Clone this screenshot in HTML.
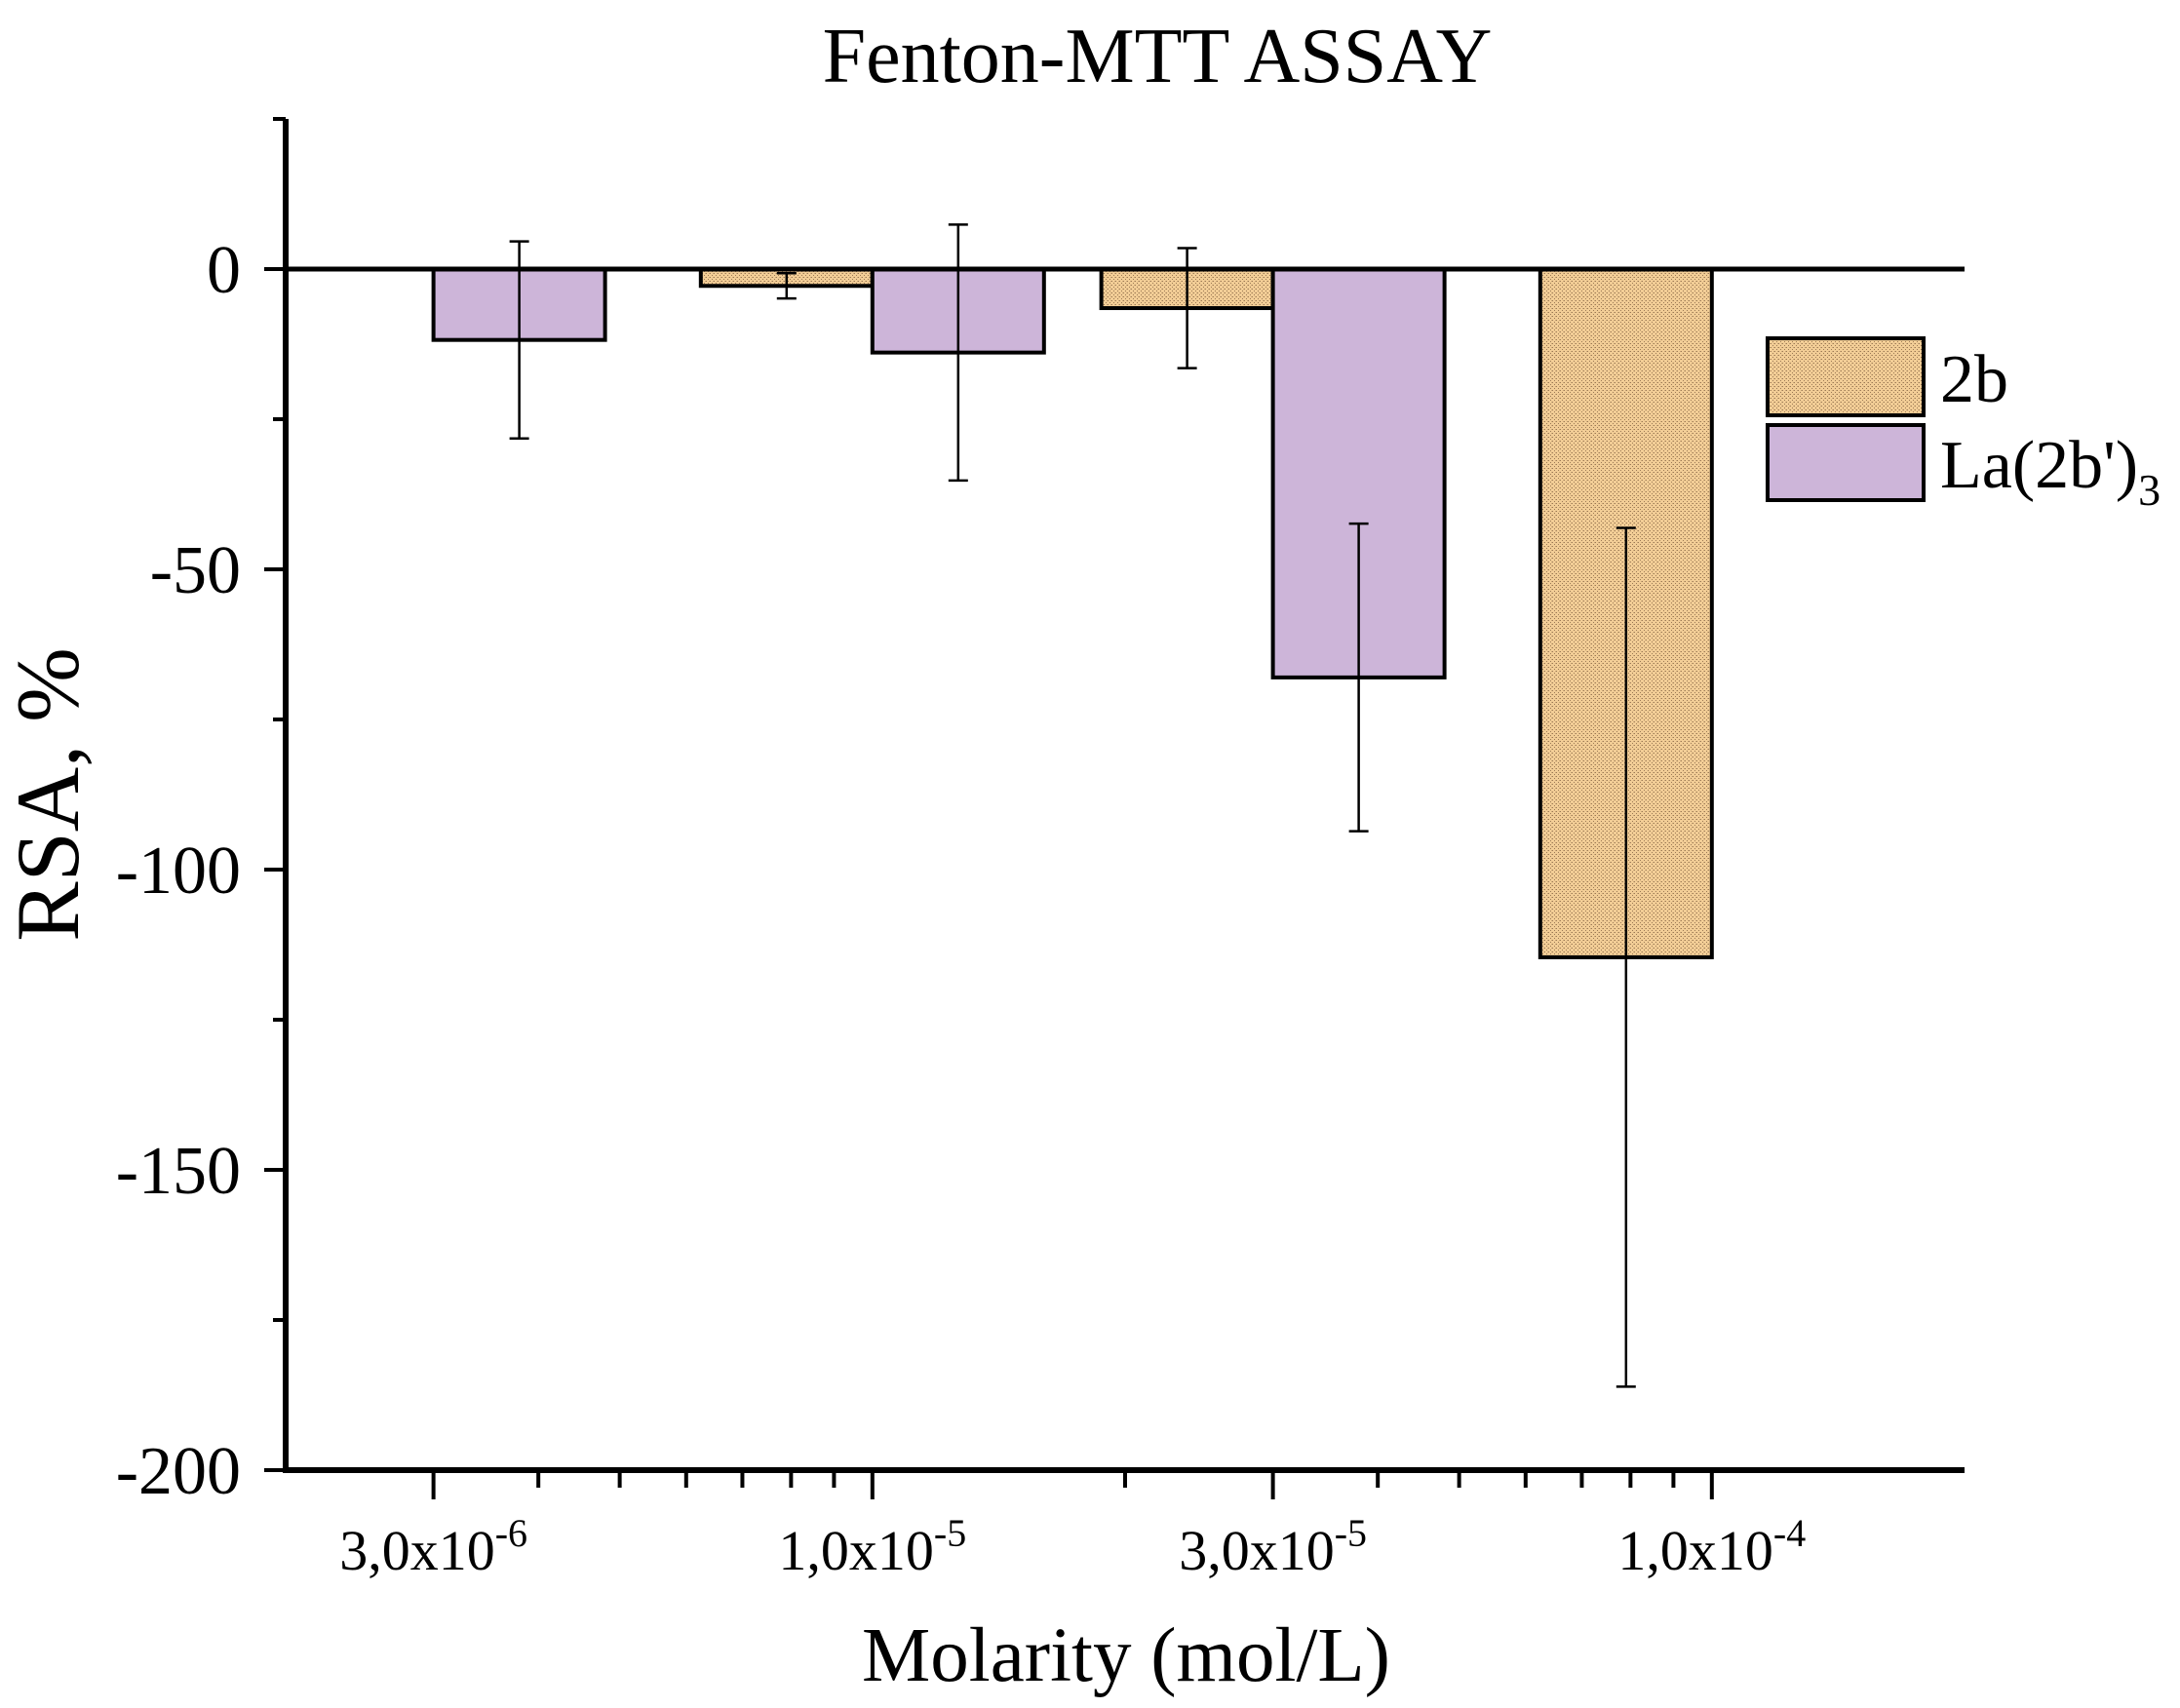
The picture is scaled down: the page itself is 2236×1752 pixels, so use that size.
<!DOCTYPE html>
<html><head><meta charset="utf-8"><style>
html,body{margin:0;padding:0;background:#fff}
svg{display:block}
text{font-family:"Liberation Serif",serif;fill:#000}
</style></head><body>
<svg id="chart" width="2236" height="1752" viewBox="0 0 2236 1752" xmlns="http://www.w3.org/2000/svg">
<defs>
<pattern id="dots" width="4" height="4" patternUnits="userSpaceOnUse">
<rect width="4" height="4" fill="#f2cd96"/>
<rect x="0" y="0" width="1" height="1" fill="#9c7a55"/>
<rect x="2" y="2" width="1" height="1" fill="#9c7a55"/>
<rect x="3" y="0" width="1" height="1" fill="#c9a575"/>
</pattern>
</defs>
<text x="1187" y="84" font-size="80" text-anchor="middle">Fenton-MTT ASSAY</text>
<g id="plot"></g>
<text x="1155" y="1724" font-size="79" text-anchor="middle">Molarity (mol/L)</text>
<text transform="translate(80,815) rotate(-90)" font-size="92" text-anchor="middle">RSA, %</text>
<g>
<rect x="1813" y="347" width="160" height="79" fill="url(#dots)" stroke="#000" stroke-width="4"/>
<text x="1990" y="412" font-size="70">2b</text>
<rect x="1813" y="436" width="160" height="77" fill="#cdb5d9" stroke="#000" stroke-width="4"/>
<text x="1990" y="500" font-size="70">La(2b')<tspan font-size="46" dy="18">3</tspan></text>
</g>
</svg>
<script>
const categories = [3e-6, 1e-5, 3e-5, 1e-4];
const categoryLabels = ["3,0x10", "1,0x10", "3,0x10", "1,0x10"];
const categoryExps = ["-6", "-5", "-5", "-4"];
const values2b = [null, -2.8, -6.5, -114.6];
const err2b = [null, 2.1, 10, 71.5];
const valuesLa = [-11.8, -13.9, -68, null];
const errLa = [16.4, 21.3, 25.6, null];
const yTicks = [0, -50, -100, -150, -200];

const NS = "http://www.w3.org/2000/svg";
const g = document.getElementById('plot');
const L = 293, R = 2015, T = 122, B = 1508;
const yMin = -200, yMax = 25;
const xMin = Math.log10(2e-6), xMax = Math.log10(2e-4);
const sx = v => L + (Math.log10(v) - xMin) / (xMax - xMin) * (R - L);
const sy = v => B - (v - yMin) / (yMax - yMin) * (B - T);
const BW = 176;
function mk(tag, attrs) { const e = document.createElementNS(NS, tag); for (const k in attrs) e.setAttribute(k, attrs[k]); g.appendChild(e); return e; }

categories.forEach((c, i) => {
  const x = sx(c);
  if (values2b[i] !== null) {
    const r = mk('rect', {x: x - BW, y: sy(0), width: BW, height: sy(values2b[i]) - sy(0), fill: 'url(#dots)', stroke: '#000', 'stroke-width': 4});
    
    
  }
  if (valuesLa[i] !== null) {
    const r = mk('rect', {x: x, y: sy(0), width: BW, height: sy(valuesLa[i]) - sy(0), fill: '#cdb5d9', stroke: '#000', 'stroke-width': 4});
    
    
  }
});
const zl = mk('line', {x1: L, x2: R, y1: sy(0), y2: sy(0), stroke: '#000', 'stroke-width': 5});


function errBar(cx, v, e, name) {
  const eg = document.createElementNS(NS, 'g');
  
  
  const y1 = sy(v + e), y2 = sy(v - e);
  [[cx, y1, cx, y2], [cx - 10, y1, cx + 10, y1], [cx - 10, y2, cx + 10, y2]].forEach(p => {
    const l = document.createElementNS(NS, 'line');
    l.setAttribute('x1', p[0]); l.setAttribute('y1', p[1]); l.setAttribute('x2', p[2]); l.setAttribute('y2', p[3]);
    l.setAttribute('stroke', '#000'); l.setAttribute('stroke-width', 2.5);
    eg.appendChild(l);
  });
  g.appendChild(eg);
}
categories.forEach((c, i) => {
  const x = sx(c);
  if (values2b[i] !== null) errBar(x - BW / 2, values2b[i], err2b[i], 'error-bar-2b');
  if (valuesLa[i] !== null) errBar(x + BW / 2, valuesLa[i], errLa[i], 'error-bar-la');
});
const ya = mk('line', {x1: L, x2: L, y1: T, y2: B + 3, stroke: '#000', 'stroke-width': 6});


const xa = mk('line', {x1: L - 3, x2: R, y1: B, y2: B, stroke: '#000', 'stroke-width': 6});


for (let v = -200; v <= 25; v += 25) {
  const major = v % 50 === 0;
  const t = mk('line', {x1: L - (major ? 22 : 13), x2: L, y1: sy(v), y2: sy(v), stroke: '#000', 'stroke-width': 4});
  
  
}
yTicks.forEach(v => {
  const t = mk('text', {x: 247, y: sy(v) + 24, 'font-size': 70, 'text-anchor': 'end'});
  t.textContent = String(v);
  
  
});
for (let d = -6; d <= -4; d++) {
  for (let m = 1; m <= 9; m++) {
    const v = m * Math.pow(10, d);
    if (v < 2e-6 * 1.01 || v > 2e-4 * 0.99) continue;
    const isCat = categories.some(c => Math.abs(c - v) / v < 1e-6);
    if (isCat) continue;
    const t = mk('line', {x1: sx(v), x2: sx(v), y1: B, y2: B + 18, stroke: '#000', 'stroke-width': 4});
    
    
  }
}
categories.forEach((c, i) => {
  const x = sx(c);
  const t = mk('line', {x1: x, x2: x, y1: B, y2: B + 30, stroke: '#000', 'stroke-width': 4});
  
  
  const tx = mk('text', {x: x, y: 1610, 'font-size': 58, 'text-anchor': 'middle'});
  
  
  const a = document.createElementNS(NS, 'tspan'); a.textContent = categoryLabels[i];
  const b = document.createElementNS(NS, 'tspan'); b.textContent = categoryExps[i];
  b.setAttribute('font-size', 40); b.setAttribute('dy', -24);
  tx.appendChild(a); tx.appendChild(b);
});
</script>
</body></html>
